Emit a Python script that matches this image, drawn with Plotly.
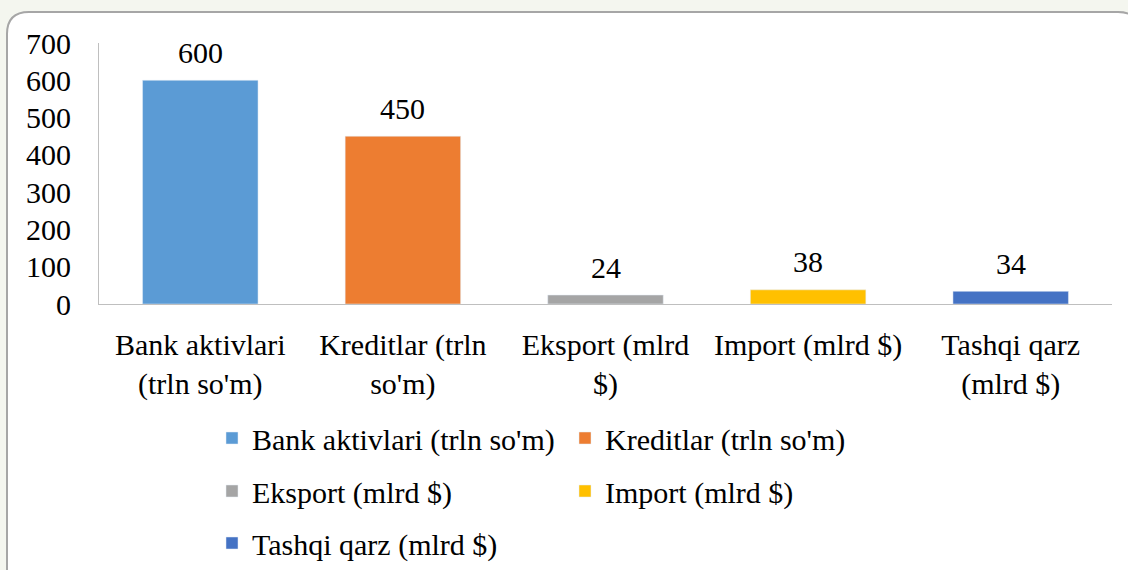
import plotly.graph_objects as go

categories = ["Bank aktivlari<br>(trln so'm)", "Kreditlar (trln<br>so'm)", "Eksport (mlrd<br>$)",
              "Import (mlrd $)", "Tashqi qarz<br>(mlrd $)"]
series_names = ["Bank aktivlari (trln so'm)", "Kreditlar (trln so'm)", "Eksport (mlrd $)",
                "Import (mlrd $)", "Tashqi qarz (mlrd $)"]
values = [600, 450, 24, 38, 34]
colors = ["#5B9BD5", "#ED7D31", "#A5A5A5", "#FFC000", "#4472C4"]
y_ticks = [0, 100, 200, 300, 400, 500, 600, 700]

W, H = 1128, 570
L, R, T, B = 99, 16, 43, 266
pw, ph = W - L - R, H - T - B

def px_x(x):
    return (x - L) / pw

def px_y(y):
    return (H - B - y) / ph

FONT = "Liberation Serif"
FS = 30

fig = go.Figure()
legend_pos = [(212, 438), (565, 438), (212, 491), (565, 491), (212, 543)]
legend_layout = {}
for i, (cat, name, v, c) in enumerate(zip(categories, series_names, values, colors)):
    lname = "legend" if i == 0 else f"legend{i+1}"
    fig.add_trace(go.Bar(x=[cat], y=[v], name=name, marker_color=c, legend=lname))
    lx, ly = legend_pos[i]
    legend_layout[lname] = dict(x=px_x(lx), y=px_y(ly), xanchor="left", yanchor="middle",
                                bgcolor="rgba(0,0,0,0)", font=dict(family=FONT, size=FS, color="#000"),
                                orientation="h")
    fig.add_annotation(x=cat, y=v, text=str(v), showarrow=False, yshift=28,
                       yanchor="middle", font=dict(family=FONT, size=FS, color="#000"))

# rounded frame
x0, y0, x1, y1 = px_x(7), px_y(12), px_x(1140), px_y(600)
rx, ry = 22 / pw, 22 / ph
path = (f"M {x0},{y1} L {x0},{y0 - ry} Q {x0},{y0} {x0 + rx},{y0} "
        f"L {x1 - rx},{y0} Q {x1},{y0} {x1},{y0 - ry} L {x1},{y1} Z")
fig.add_shape(type="path", path=path, xref="paper", yref="paper", layer="below",
              fillcolor="white", line=dict(color="#a6a6a6", width=2))

fig.update_layout(
    width=W, height=H,
    margin=dict(l=L, r=R, t=T, b=B, autoexpand=False),
    paper_bgcolor="#f4f6ef", plot_bgcolor="rgba(0,0,0,0)",
    barmode="overlay", bargap=0.43,
    showlegend=True,
    font=dict(family=FONT, size=FS, color="#000"),
    **legend_layout,
)
fig.update_xaxes(showgrid=False, showline=True, linecolor="#bfbfbf", linewidth=1,
                 ticks="", tickfont=dict(family=FONT, size=FS, color="#000"),
                 ticklabelstandoff=14, zeroline=False, fixedrange=True)
fig.update_yaxes(range=[0, 700], tickvals=y_ticks, showgrid=False, showline=True,
                 linecolor="#bfbfbf", linewidth=1, ticks="", zeroline=False,
                 tickfont=dict(family=FONT, size=FS, color="#000"),
                 ticklabelstandoff=21, fixedrange=True)

fig.write_html("out.html", config={"displayModeBar": False},
               post_script="document.body.style.margin='0';document.body.style.padding='0';")
